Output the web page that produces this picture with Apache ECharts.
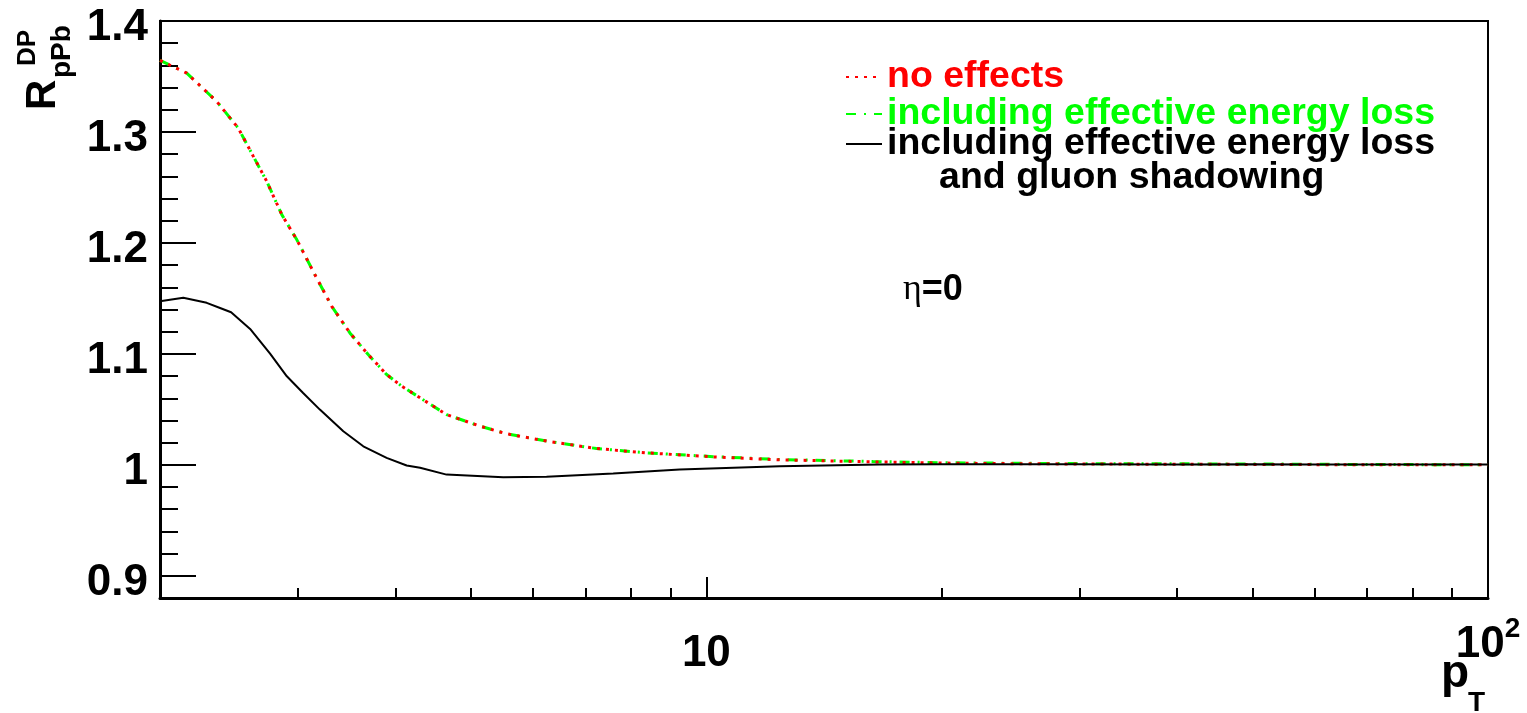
<!DOCTYPE html>
<html>
<head>
<meta charset="utf-8">
<script src="https://cdn.jsdelivr.net/npm/echarts@6/dist/echarts.min.js"></script>
<style>
html,body{margin:0;padding:0;background:#fff;}
#chart{width:1527px;height:713px;}
</style>
</head>
<body>
<div id="chart"></div>
<script>
// ---- data ----
const pTNoEffects = [2.0, 2.164, 2.363, 2.518, 2.633, 2.739, 2.863, 2.992, 3.172, 3.317, 3.499, 3.693, 3.899, 4.076, 4.303, 4.652, 5.131, 5.551, 6.245, 7.235, 8.385, 10.2, 12.41, 16.34, 20, 25, 30, 40, 50, 60, 80, 100];
const rNoEffects  = [1.3645, 1.353, 1.3276, 1.3036, 1.278, 1.2555, 1.2255, 1.203, 1.1685, 1.1429, 1.1189, 1.0994, 1.0814, 1.0709, 1.0604, 1.0453, 1.0349, 1.028, 1.0214, 1.0147, 1.0108, 1.0072, 1.0045, 1.0027, 1.0016, 1.001, 1.0008, 1.0005, 1.0004, 1.0002, 1.0001, 1.0];

const pTELoss = [2.0, 2.164, 2.363, 2.518, 2.633, 2.739, 2.863, 2.992, 3.172, 3.317, 3.499, 3.693, 3.899, 4.076, 4.303, 4.652, 5.131, 5.551, 6.245, 7.235, 8.385, 10.2, 12.41, 16.34, 20, 25, 30, 40, 50, 60, 80, 100];
const rELoss  = [1.3645, 1.353, 1.3276, 1.3036, 1.278, 1.2555, 1.2255, 1.203, 1.1685, 1.1429, 1.1189, 1.0994, 1.0814, 1.0709, 1.0604, 1.0453, 1.0349, 1.028, 1.0214, 1.0147, 1.0108, 1.0074, 1.0048, 1.003, 1.0019, 1.0014, 1.0011, 1.0009, 1.0008, 1.0005, 1.0002, 1.0];

const pTShadow = [2.0, 2.142, 2.295, 2.387, 2.466, 2.608, 2.766, 2.906, 3.049, 3.203, 3.432, 3.64, 3.899, 4.136, 4.303, 4.652, 5.497, 6.245, 7.6, 9.245, 12.41, 16.66, 20, 30, 40, 50, 60, 80, 100];
const rShadow  = [1.1474, 1.1505, 1.146, 1.1414, 1.1375, 1.1225, 1.1002, 1.0798, 1.0648, 1.0498, 1.0303, 1.0167, 1.0063, 0.9994, 0.9973, 0.9912, 0.9889, 0.9892, 0.9922, 0.9958, 0.9988, 1.0003, 1.0005, 1.0005, 1.0004, 1.0005, 1.0003, 1.0002, 1.0002];

const seriesNames = ['no effects', 'including effective energy loss', 'including effective energy loss and gluon shadowing'];
const yMajorTicks = [0.9, 1.0, 1.1, 1.2, 1.3, 1.4];
const yMinorTicks = [0.92, 0.94, 0.96, 0.98, 1.02, 1.04, 1.06, 1.08, 1.12, 1.14, 1.16, 1.18, 1.22, 1.24, 1.26, 1.28, 1.32, 1.34, 1.36, 1.38];
const xMajorTicks = [10, 100];
const xMinorTicks = [3, 4, 5, 6, 7, 8, 9, 20, 30, 40, 50, 60, 70, 80, 90];

const FONT = '"Liberation Sans", Arial, Helvetica, sans-serif';
const pair = (xs, ys) => xs.map((x, i) => [x, ys[i]]);

const chart = echarts.init(document.getElementById('chart'), null, {renderer: 'canvas'});

const legendText = {fontFamily: FONT, fontWeight: 'bold', fontSize: 37.5, lineHeight: 34};

const option = {
  animation: false,
  backgroundColor: '#ffffff',
  grid: {left: 160, right: 39, top: 21, bottom: 115, show: true, borderColor: '#000', borderWidth: 2, backgroundColor: 'transparent'},
  xAxis: [
    {
      type: 'log', logBase: 10, min: 2, max: 100, position: 'bottom',
      axisLine: {show: true, lineStyle: {color: '#000', width: 3}},
      axisTick: {show: true, inside: true, length: 21, lineStyle: {color: '#000', width: 2}, customValues: xMajorTicks},
      axisLabel: {show: true, customValues: [10], margin: 34, color: '#000', fontFamily: FONT, fontWeight: 'bold', fontSize: 44},
      splitLine: {show: false}
    },
    {
      type: 'log', logBase: 10, min: 2, max: 100, position: 'bottom',
      axisLine: {show: false},
      axisTick: {show: true, inside: true, length: 10, lineStyle: {color: '#000', width: 2}, customValues: xMinorTicks},
      axisLabel: {
        show: true, customValues: [100], margin: 17, color: '#000',
        formatter: () => '{b|10}{s|2}',
        rich: {
          b: {fontFamily: FONT, fontWeight: 'bold', fontSize: 44, color: '#000'},
          s: {fontFamily: FONT, fontWeight: 'bold', fontSize: 28, color: '#000', padding: [0, 0, 31, 0]}
        }
      },
      splitLine: {show: false}
    }
  ],
  yAxis: [
    {
      type: 'value', min: 0.88, max: 1.4, position: 'left',
      axisLine: {show: true, lineStyle: {color: '#000', width: 3}},
      axisTick: {show: true, inside: true, length: 36, lineStyle: {color: '#000', width: 2}, customValues: yMajorTicks},
      axisLabel: {
        show: true, customValues: yMajorTicks, margin: 12, color: '#000',
        formatter: v => '{a|' + (Math.abs(v - 1) < 1e-9 ? '1' : v.toFixed(1)) + '}',
        rich: {a: {fontFamily: FONT, fontWeight: 'bold', fontSize: 44, color: '#000', padding: [14, 0, 0, 0]}}
      },
      splitLine: {show: false}
    },
    {
      type: 'value', min: 0.88, max: 1.4, position: 'left',
      axisLine: {show: false},
      axisTick: {show: true, inside: true, length: 18, lineStyle: {color: '#000', width: 2}, customValues: yMinorTicks},
      axisLabel: {show: false},
      splitLine: {show: false}
    }
  ],
  legend: [
    {
      orient: 'vertical', left: 840, top: 53, itemWidth: 36, itemHeight: 14, itemGap: -1,
      itemStyle: {opacity: 0},
      data: [
        {name: seriesNames[0], textStyle: {color: '#ff0000'}},
        {name: seriesNames[1], textStyle: {color: '#00ff00'}}
      ],
      textStyle: legendText,
      selectedMode: false
    },
    {
      orient: 'vertical', left: 840, top: 86, itemWidth: 36, itemHeight: 14, itemGap: 0,
      itemStyle: {opacity: 0},
      data: [{name: seriesNames[2], textStyle: {color: '#000000'}}],
      formatter: () => ' \nincluding effective energy loss\n     and gluon shadowing',
      textStyle: legendText,
      selectedMode: false
    }
  ],
  series: [
    {
      name: seriesNames[1], type: 'line', xAxisIndex: 0, yAxisIndex: 0,
      data: pair(pTELoss, rELoss), showSymbol: false, symbol: 'none',
      lineStyle: {color: '#00ff00', width: 3, type: [10, 8, 2, 8]}, itemStyle: {color: '#00ff00'}, z: 2
    },
    {
      name: seriesNames[0], type: 'line', xAxisIndex: 0, yAxisIndex: 0,
      data: pair(pTNoEffects, rNoEffects), showSymbol: false, symbol: 'none',
      lineStyle: {color: '#ff0000', width: 3, type: [3, 6]}, itemStyle: {color: '#ff0000'}, z: 3
    },
    {
      name: seriesNames[2], type: 'line', xAxisIndex: 0, yAxisIndex: 0,
      data: pair(pTShadow, rShadow), showSymbol: false, symbol: 'none',
      lineStyle: {color: '#000000', width: 2}, itemStyle: {color: '#000000'}, z: 4
    }
  ],
  graphic: [
    {type: 'text', x: 43, y: 110, rotation: Math.PI / 2,
     style: {text: 'R', fontFamily: FONT, fontWeight: 'bold', fontSize: 42, fill: '#000', align: 'left', verticalAlign: 'middle'}},
    {type: 'text', x: 28, y: 66, rotation: Math.PI / 2,
     style: {text: 'DP', fontFamily: FONT, fontWeight: 'bold', fontSize: 26, fill: '#000', align: 'left', verticalAlign: 'middle'}},
    {type: 'text', x: 62, y: 78, rotation: Math.PI / 2,
     style: {text: 'pPb', fontFamily: FONT, fontWeight: 'bold', fontSize: 28, fill: '#000', align: 'left', verticalAlign: 'middle'}},
    {type: 'text', x: 1441, y: 674,
     style: {text: 'p', fontFamily: FONT, fontWeight: 'bold', fontSize: 46, fill: '#000', align: 'left', verticalAlign: 'middle'}},
    {type: 'text', x: 1468, y: 703,
     style: {text: 'T', fontFamily: FONT, fontWeight: 'bold', fontSize: 28, fill: '#000', align: 'left', verticalAlign: 'middle'}},
    {type: 'text', x: 903, y: 290,
     style: {text: '{e|η}{b|=0}', align: 'left', verticalAlign: 'middle',
       rich: {
         e: {fontFamily: '"Liberation Serif", "DejaVu Serif", serif', fontSize: 36, fill: '#000', color: '#000'},
         b: {fontFamily: FONT, fontWeight: 'bold', fontSize: 36, fill: '#000', color: '#000'}
       }}}
  ]
};
chart.setOption(option);
</script>
</body>
</html>
